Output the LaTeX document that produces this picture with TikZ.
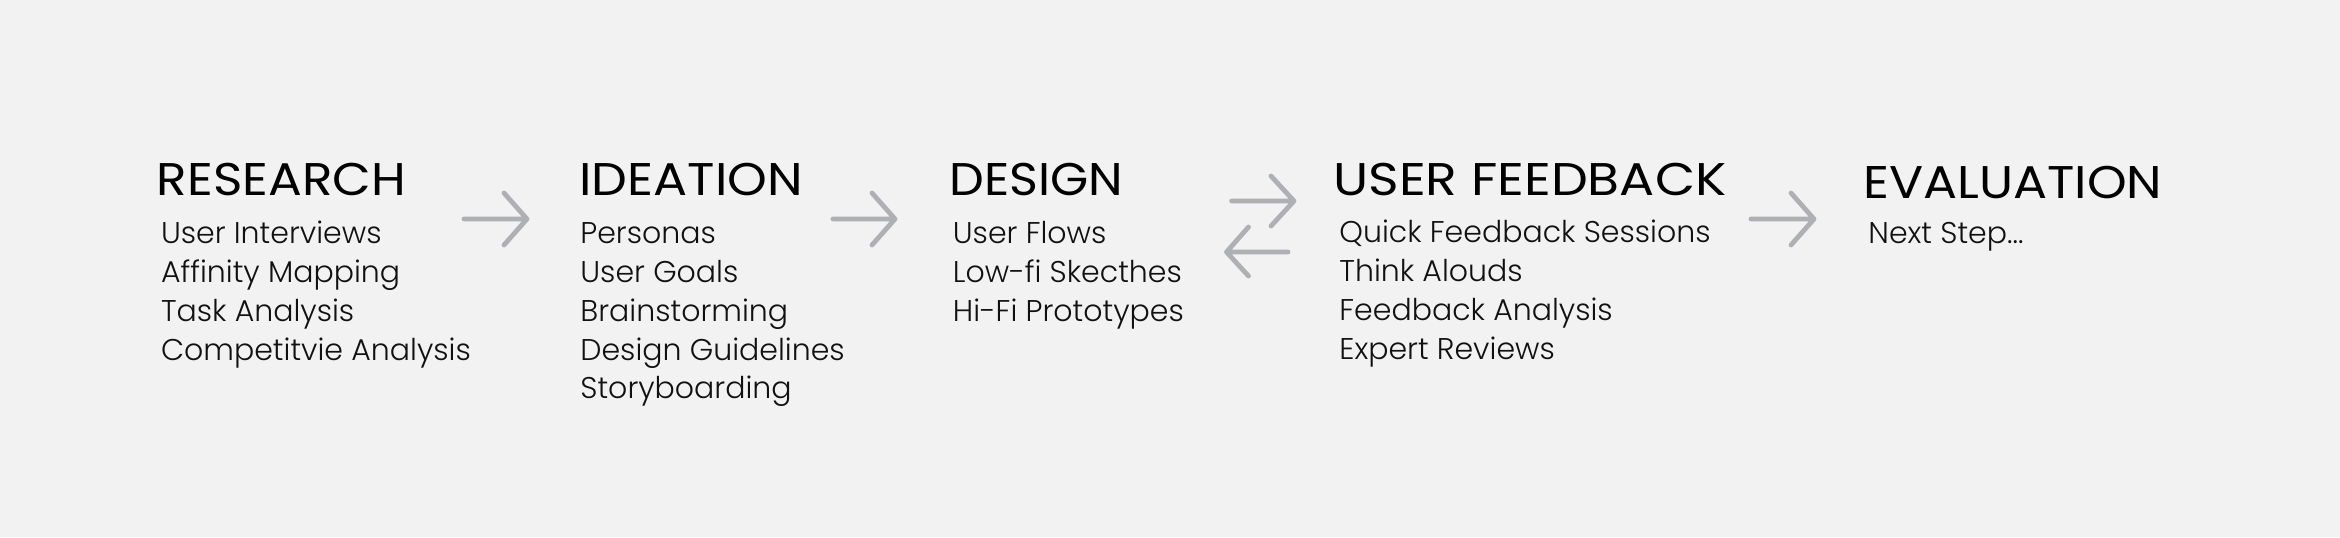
\documentclass[tikz,border=0pt]{standalone}
\usepackage{graphicx}
\usepackage{fontspec}
\setmainfont{Poppins}
\newfontfamily\lightfont{Poppins}[UprightFont=*-Light]
\definecolor{bgc}{HTML}{F2F2F2}
\definecolor{arrc}{HTML}{AEB0B3}
\definecolor{txtc}{HTML}{111111}
\newsavebox\fitbox
\newcommand\fitw[2]{\sbox\fitbox{#2}\pgfmathsetmacro\fitsx{#1/\the\wd\fitbox}\scalebox{\fitsx}[1]{\usebox\fitbox}}
\tikzset{
  hdr/.style={anchor=base west, inner sep=0pt, font=\fontsize{22.9}{24}\selectfont, text=black},
  itm/.style={anchor=base west, inner sep=0pt, font=\lightfont\fontsize{15}{17}\selectfont, text=txtc},
  arr/.style={draw=arrc, line width=2.4pt, line cap=round, line join=round}
}
\begin{document}
\begin{tikzpicture}[x=0.5pt,y=-0.5pt]
\fill[bgc] (0,0) rectangle (2340,537);
\useasboundingbox (0,0) rectangle (2340,537);
% headers (widths in pt = reference px / 2)
\node[hdr] (research) at (156.5,195) {\fitw{124.5}{RESEARCH}};
\node[hdr] (ideation) at (579,195) {\fitw{111.7}{IDEATION}};
\node[hdr] (design) at (949.5,195) {\fitw{86.8}{DESIGN}};
\node[hdr] (feedback) at (1333,195) {\fitw{196.5}{USER FEEDBACK}};
\node[hdr] (evaluation) at (1863,198) {\fitw{149.5}{EVALUATION}};
% research items
\node[itm] (r1) at (160.6,243) {User Interviews};
\node[itm] (r2) at (160.6,282) {Affinity Mapping};
\node[itm] (r3) at (160.6,321) {Task Analysis};
\node[itm] (r4) at (160.6,360) {Competitvie Analysis};
% ideation items
\node[itm] (i1) at (580,243) {Personas};
\node[itm] (i2) at (580,282) {User Goals};
\node[itm] (i3) at (580,321) {Brainstorming};
\node[itm] (i4) at (580,360) {Design Guidelines};
\node[itm] (i5) at (580,398) {Storyboarding};
% design items
\node[itm] (d1) at (952.5,243) {User Flows};
\node[itm] (d2) at (952.5,282) {Low-fi Skecthes};
\node[itm] (d3) at (952.5,321) {Hi-Fi Prototypes};
% feedback items
\node[itm] (f1) at (1339,242) {Quick Feedback Sessions};
\node[itm] (f2) at (1339,281) {Think Alouds};
\node[itm] (f3) at (1339,320) {Feedback Analysis};
\node[itm] (f4) at (1339,359) {Expert Reviews};
% evaluation items
\node[itm] (e1) at (1868,243) {Next Step...};
% arrows
\coordinate (a1s) at (464,219); \coordinate (a1e) at (527,219);
\coordinate (a2s) at (833,219); \coordinate (a2e) at (895,219);
\coordinate (a3s) at (1231.6,201); \coordinate (a3e) at (1294,201);
\coordinate (a4s) at (1288,252); \coordinate (a4e) at (1226.5,252);
\coordinate (a5s) at (1751,219); \coordinate (a5e) at (1814,219);
\draw[arr] (a1s) -- (a1e) ++(-23,-26) -- (a1e) -- ++(-23,26);
\draw[arr] (a2s) -- (a2e) ++(-23,-26) -- (a2e) -- ++(-23,26);
\draw[arr] (a3s) -- (a3e) ++(-23,-25) -- (a3e) -- ++(-23,25);
\draw[arr] (a4s) -- (a4e) ++(22,-25) -- (a4e) -- ++(22,24);
\draw[arr] (a5s) -- (a5e) ++(-23,-26) -- (a5e) -- ++(-23,26);
\end{tikzpicture}
\end{document}
